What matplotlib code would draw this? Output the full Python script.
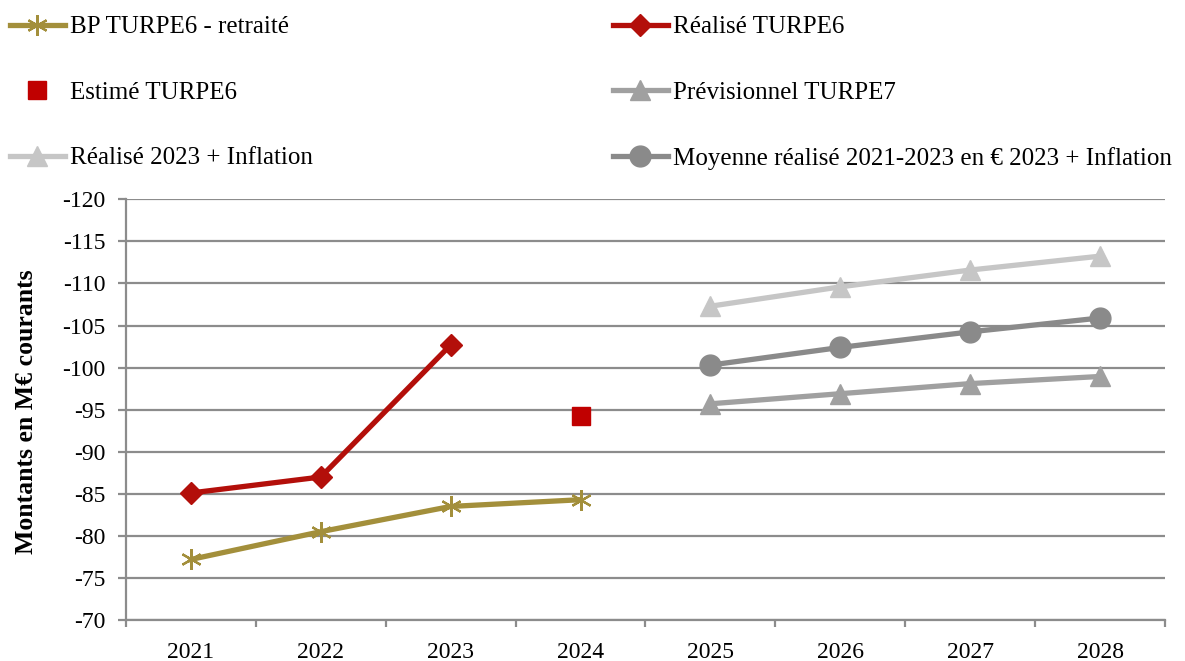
import numpy as np
import matplotlib.pyplot as plt

plt.rcParams['font.family'] = ['Liberation Serif', 'DejaVu Serif']

years = ['2021', '2022', '2023', '2024', '2025', '2026', '2027', '2028']

bp_turpe6 = [-77.2, -80.5, -83.5, -84.3]
realise_turpe6 = [-85.1, -87.0, -102.7]
estime_turpe6 = [-94.25]
previsionnel_turpe7 = [-95.7, -96.9, -98.1, -98.95]
realise_2023_infl = [-107.3, -109.6, -111.6, -113.25]
moyenne_infl = [-100.3, -102.4, -104.25, -105.9]

x = np.arange(len(years))

c_gold = '#A38F3B'
c_red = '#B30F0A'
c_sq = '#C00000'
c_prev = '#A0A0A0'
c_light = '#C6C6C6'
c_moy = '#8A8A8A'
c_grid = '#8C8C8C'
fs = 17
fs_leg = 18

fig = plt.figure(figsize=(11.85, 6.61), dpi=100)
ax = fig.add_axes([0.1063, 0.062, 0.8768, 0.6364])

ax.set_ylim(-70, -120)
ax.set_xlim(-0.5, 7.5)
ax.set_yticks(np.arange(-120, -69, 5))
ax.yaxis.grid(True, color=c_grid, lw=1.6)
ax.set_axisbelow(True)

lw = 3.8
ax.plot(x[0:4], bp_turpe6, color=c_gold, lw=lw, marker=(6, 2, 0), ms=15,
        mew=1.6, mec=c_gold, label='BP TURPE6 - retraité', zorder=3)
ax.plot(x[0:3], realise_turpe6, color=c_red, lw=lw, marker='D', ms=11,
        label='Réalisé TURPE6', zorder=3)
ax.plot(x[3:4], estime_turpe6, ls='none', color=c_sq, marker='s', ms=13,
        label='Estimé TURPE6', zorder=3)
ax.plot(x[4:8], previsionnel_turpe7, color=c_prev, lw=lw, marker='^', ms=14,
        label='Prévisionnel TURPE7', zorder=3)
ax.plot(x[4:8], realise_2023_infl, color=c_light, lw=lw, marker='^', ms=14,
        label='Réalisé 2023 + Inflation', zorder=3)
ax.plot(x[4:8], moyenne_infl, color=c_moy, lw=lw, marker='o', ms=15,
        label='Moyenne réalisé 2021-2023 en € 2023 + Inflation', zorder=3)

for s in ['top', 'right']:
    ax.spines[s].set_visible(False)
ax.spines['left'].set_color(c_grid)
ax.spines['left'].set_linewidth(1.6)
ax.spines['bottom'].set_color(c_grid)
ax.spines['bottom'].set_linewidth(1.6)

ax.set_xticks(x)
ax.set_xticklabels(years)
ax.set_xticks(np.arange(-0.5, 8, 1), minor=True)
ax.tick_params(axis='x', which='major', length=0, pad=16, labelsize=fs)
ax.tick_params(axis='x', which='minor', length=5, width=1.6, color=c_grid)
ax.tick_params(axis='y', length=6, width=1.6, color=c_grid, labelsize=fs, pad=9)
ax.set_yticklabels([str(v) for v in np.arange(-120, -69, 5)])

fig.text(0.022, 0.377, 'Montants en M€ courants', rotation=90, fontsize=18.5,
         fontweight='bold', ha='center', va='center')

handles, labels = ax.get_legend_handles_labels()
order1 = [0, 2, 4]
order2 = [1, 3, 5]
kw = dict(frameon=False, fontsize=fs_leg, handlelength=2.2, handletextpad=0.2,
          labelspacing=1.72, borderpad=0, borderaxespad=0, loc='upper left')
fig.legend([handles[i] for i in order1], [labels[i] for i in order1],
           bbox_to_anchor=(0.0084, 0.976), **kw)
fig.legend([handles[i] for i in order2], [labels[i] for i in order2],
           bbox_to_anchor=(0.517, 0.976), **kw)

fig.savefig('out.png', dpi=100)
